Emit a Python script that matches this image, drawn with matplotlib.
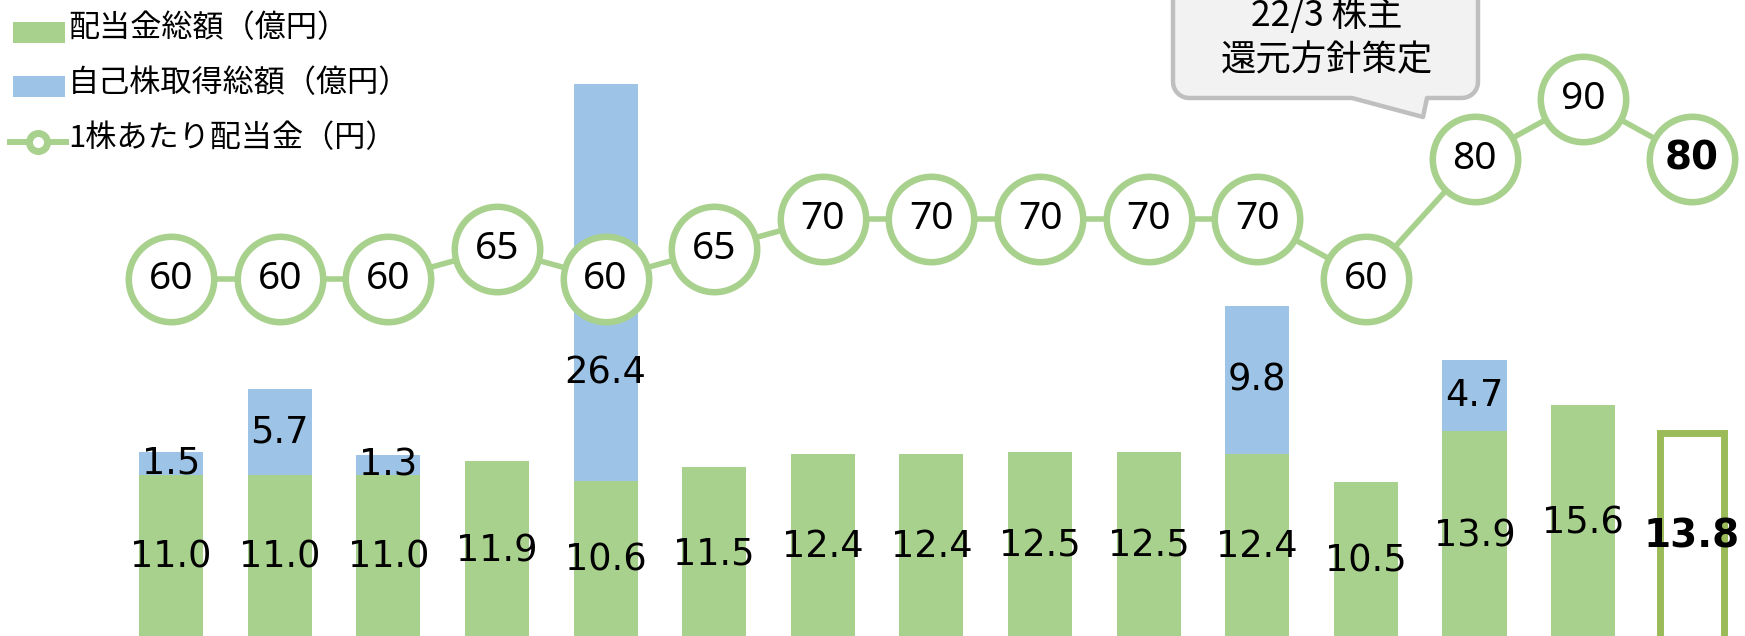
import numpy as np
import matplotlib.pyplot as plt
from matplotlib.patches import Rectangle, Polygon
from matplotlib.lines import Line2D

plt.rcParams['font.family'] = ['DejaVu Sans', 'Noto Sans CJK JP']

# データ
dividend = [11.0, 11.0, 11.0, 11.9, 10.6, 11.5, 12.4, 12.4, 12.5, 12.5, 12.4, 10.5, 13.9, 15.6, 13.8]
buyback = [1.5, 5.7, 1.3, 0, 26.4, 0, 0, 0, 0, 0, 9.8, 0, 4.7, 0, 0]
dps = [60, 60, 60, 65, 60, 65, 70, 70, 70, 70, 70, 60, 80, 90, 80]
legend_labels = ['配当金総額（億円）', '自己株取得総額（億円）', '1株あたり配当金（円）']
callout = ['22/3 株主', '還元方針策定']

green = '#A9D18E'
blue = '#9DC3E6'
dark_green = '#9BBB59'

W, H = 1745, 636
fig = plt.figure(figsize=(W / 100, H / 100), dpi=100)
ax = fig.add_axes([0, 0, 1, 1])
ax2 = ax.twinx()

x = np.arange(len(dividend))
n = len(dividend)
last = n - 1

# 棒グラフ（最後は予想 → 枠だけ）
ax.bar(x[:last], dividend[:last], width=0.59, color=green, zorder=2)
ax.bar(x[:last], buyback[:last], bottom=dividend[:last], width=0.59, color=blue, zorder=2)
ax.bar(x[last], dividend[last], width=0.59, facecolor='white', edgecolor=dark_green, linewidth=5, zorder=2)

for i in range(n):
    if i == last:
        ax.text(x[i], dividend[i] / 2, f'{dividend[i]:.1f}', ha='center', va='center',
                fontsize=28, fontweight='bold', zorder=5)
    else:
        ax.text(x[i], dividend[i] / 2, f'{dividend[i]:.1f}', ha='center', va='center',
                fontsize=26.5, zorder=5)
    if buyback[i] > 0:
        if buyback[i] > 20:
            yy = dividend[i] + buyback[i] * 0.27   # 丸と重ならないように下げる
        else:
            yy = dividend[i] + buyback[i] / 2
        ax.text(x[i], yy, f'{buyback[i]:.1f}', ha='center', va='center', fontsize=26.5, zorder=5)

ax.set_xlim(-1.575, 14.49)
ax.set_ylim(0.27, 0.27 + H / 15.04)
ax2.set_ylim(0.5, 0.5 + H / 6.0)

# 1株あたり配当金
ax2.plot(x, dps, color=green, linewidth=4, marker='o', markersize=61.5,
         markerfacecolor='white', markeredgecolor=green, markeredgewidth=4.7, zorder=3)
for i in range(n):
    if i == last:
        ax2.text(x[i], dps[i], str(dps[i]), ha='center', va='center', fontsize=28,
                 fontweight='bold', zorder=6)
    else:
        ax2.text(x[i], dps[i], str(dps[i]), ha='center', va='center', fontsize=28,
                 family=['Noto Sans', 'DejaVu Sans'], zorder=6)

for a in (ax, ax2):
    a.axis('off')

# 凡例（手書き）
def fx(px):
    return px / W

def fy(py):
    return 1 - py / H

fig.patches.append(Rectangle((fx(13), fy(43)), fx(52), 21 / H, transform=fig.transFigure,
                             facecolor=green, edgecolor='none'))
fig.patches.append(Rectangle((fx(13), fy(97)), fx(52), 21 / H, transform=fig.transFigure,
                             facecolor=blue, edgecolor='none'))
fig.lines.append(Line2D([fx(10), fx(66)], [fy(142), fy(142)], transform=fig.transFigure,
                        color=green, linewidth=4.3))
fig.lines.append(Line2D([fx(38)], [fy(142)], transform=fig.transFigure, color=green,
                        marker='o', markersize=13, markerfacecolor='white',
                        markeredgecolor=green, markeredgewidth=5))
for k, lab in enumerate(legend_labels):
    fig.text(fx(68), fy(29 + 55 * k), lab, ha='left', va='center', fontsize=22.4,
             family=['Noto Sans CJK JP', 'DejaVu Sans'])

# 吹き出し
L, R, T, B, r = 1173, 1478, -30, 98, 16
pts = []
for cx, cy, a0 in [(R - r, B - r, 0), (L + r, B - r, 90), (L + r, T + r, 180), (R - r, T + r, 270)]:
    th = np.radians(np.linspace(a0, a0 + 90, 8))
    pts += [(cx + r * np.cos(t), cy + r * np.sin(t)) for t in th]
# 尻尾を下辺に入れる
tail = [(1427, B), (1423, 117), (1352, B)]
pts = pts[:8] + tail + pts[8:]
pts = [(fx(px), fy(py)) for px, py in pts]
fig.patches.append(Polygon(pts, closed=True, transform=fig.transFigure,
                           facecolor='#F2F2F2', edgecolor='#BFBFBF', linewidth=3.2, joinstyle='round'))
for k, line in enumerate(callout):
    fig.text(fx(1327), fy(16 + 44 * k), line, ha='center', va='center', fontsize=25.5,
             family=['Noto Sans CJK JP', 'DejaVu Sans'])

fig.savefig('out.png', dpi=100)
